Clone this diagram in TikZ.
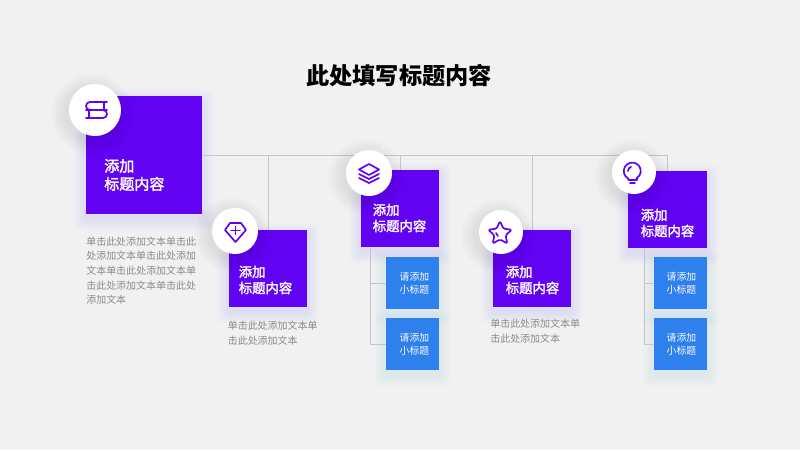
\documentclass[tikz,border=0pt]{standalone}
\usepackage{fontspec}
\setmainfont{Noto Sans CJK SC}
\newfontfamily\cardfont[FakeBold=2]{Noto Sans CJK SC}
\usepackage{xcolor}
\usetikzlibrary{shapes.geometric, positioning}

\definecolor{pagegray}{HTML}{F1F1F2}
\definecolor{cardviolet}{HTML}{6202F2}
\definecolor{subblue}{HTML}{2E80EC}
\definecolor{linkgray}{HTML}{C6C6C8}
\definecolor{notegray}{HTML}{8A8A8C}

\tikzset{
    card/.style={fill=cardviolet, inner sep=0pt, minimum width=1.95cm, minimum height=1.93cm},
    subcard/.style={fill=subblue, inner sep=0pt, minimum width=1.325cm, minimum height=1.3cm},
    subtext/.style={text=white, inner sep=0pt, align=center, font=\fontsize{7}{9}\selectfont},
    cardtext/.style={text=white, anchor=west, align=left, inner sep=0pt, font=\cardfont\fontsize{9.5}{11.5}\selectfont},
    badge/.style={circle, fill=white, inner sep=0pt, minimum size=1.12cm},
    note/.style={text=notegray, anchor=north west, align=left, inner sep=0pt, font=\fontsize{7.1}{10.4}\selectfont},
    link/.style={draw=linkgray, line width=0.6pt},
    icon/.style={draw=cardviolet, line width=1.2pt, line join=round, line cap=round}
}

% soft shadow, built from stacked layers
\newcommand{\softbox}[5]{
    \foreach \g in {1,...,10}
        \fill[#5, opacity=0.007, rounded corners=3pt] ({#1-\g*1.2},{#2-\g*1.2+5}) rectangle ({#3+\g*1.2},{#4+\g*1.2+5});
}
\newcommand{\softdisc}[3]{
    \foreach \g in {1,...,10}
        \fill[black, opacity=0.008] ({#1-3},{#2+4}) circle ({#3+\g*1.5});
}

\begin{document}
\begin{tikzpicture}[x=0.025cm, y=-0.025cm]
    \useasboundingbox (0,0) rectangle (800,450);
    \fill[pagegray] (0,0) rectangle (800,450);

    \softbox{86}{96}{202}{214}{cardviolet}
    \softbox{229}{230}{307}{307}{cardviolet}
    \softbox{361}{170}{439}{247}{cardviolet}
    \softbox{493}{230}{571}{307}{cardviolet}
    \softbox{628}{171}{707}{248}{cardviolet}
    \softbox{386}{257}{439}{309}{subblue}
    \softbox{386}{318}{439}{370}{subblue}
    \softbox{654}{257}{707}{309}{subblue}
    \softbox{654}{318}{707}{370}{subblue}

    \node[inner sep=0pt, font=\fontsize{16.5}{20}\selectfont\bfseries] (heading) at (399,76) {此处填写标题内容};

    \node[card, minimum width=2.9cm, minimum height=2.95cm] (bigcard) at (144,155) {};
    \node[card] (gemcard) at (268,268.5) {};
    \node[card] (layercard) at (400,208.5) {};
    \node[card] (starcard) at (532,268.5) {};
    \node[card, minimum width=1.975cm] (bulbcard) at (667.5,209.5) {};

    \node[subcard] (layersub1) at (412.5,283) {};
    \node[subcard] (layersub2) at (412.5,344) {};
    \node[subcard] (bulbsub1) at (680.5,283) {};
    \node[subcard] (bulbsub2) at (680.5,344) {};

    \node[subtext] (layerlabel1) at (414.5,283) {请添加\\小标题};
    \node[subtext] (layerlabel2) at (414.5,344) {请添加\\小标题};
    \node[subtext] (bulblabel1) at (681.5,283) {请添加\\小标题};
    \node[subtext] (bulblabel2) at (681.5,344) {请添加\\小标题};

    \coordinate (layerfork) at (370,247);
    \coordinate (bulbfork) at (644,248);

    \draw[link] (bigcard.east) -| (bulbcard.north);
    \draw[link] (gemcard.north) -- (gemcard.north |- bigcard.east);
    \draw[link] (layercard.north) -- (layercard.north |- bigcard.east);
    \draw[link] (starcard.north) -- (starcard.north |- bigcard.east);
    \draw[link] (layerfork) |- (layersub1.west);
    \draw[link] (layerfork) |- (layersub2.west);
    \draw[link] (bulbfork) |- (bulbsub1.west);
    \draw[link] (bulbfork) |- (bulbsub2.west);

    \node[cardtext, font=\cardfont\fontsize{10.7}{12.8}\selectfont] (bigtext) at (104,175) {添加\\标题内容};
    \node[cardtext] (gemtext) at (238.5,280) {添加\\标题内容};
    \node[cardtext] (layertext) at (372.5,218) {添加\\标题内容};
    \node[cardtext] (startext) at (505.5,280) {添加\\标题内容};
    \node[cardtext] (bulbtext) at (640.5,223) {添加\\标题内容};

    \node[note] (bignote) at (86,236.5) {单击此处添加文本单击此\\处添加文本单击此处添加\\文本单击此处添加文本单\\击此处添加文本单击此处\\添加文本};
    \node[note] (gemnote) at (227.5,321) {单击此处添加文本单\\击此处添加文本};
    \node[note] (starnote) at (490,319) {单击此处添加文本单\\击此处添加文本};

    \softdisc{95}{110}{26}
    \softdisc{235}{231}{23}
    \softdisc{369}{173}{23}
    \softdisc{501}{232}{22}
    \softdisc{634}{172}{22}

    \node[badge, minimum size=1.3cm] (bookbadge) at (95,110) {};
    \node[badge, minimum size=1.15cm] (gembadge) at (235,231) {};
    \node[badge, minimum size=1.15cm] (layerbadge) at (369,173) {};
    \node[badge, minimum size=1.1cm] (starbadge) at (501,232) {};
    \node[badge, minimum size=1.1cm] (bulbbadge) at (634,172) {};

    % icons
    \draw[icon] (107,102) -- (90,102) arc (270:90:4) -- (107,110);
    \draw[icon] (104,102) -- (104,110);
    \draw[icon] (86,110) -- (103,110) arc (-90:90:4) -- (86,118);
    \draw[icon] (89,110) -- (89,118);

    \draw[icon] (230,223) -- (241,223) -- (246,230) -- (235.5,242) -- (225,230) -- cycle;
    \draw[icon] (231,230.5) -- (240,230.5);
    \draw[icon] (235.5,226.5) -- (235.5,234.5);

    \draw[icon] (369,164) -- (379,169.5) -- (369,175) -- (359,169.5) -- cycle;
    \draw[icon] (359,174) -- (369,179) -- (379,174);
    \draw[icon] (359,178) -- (369,183) -- (379,178);

    \node[icon, star, star points=5, star point ratio=2.1, rounded corners=1pt, minimum size=0.62cm, inner sep=0pt] (staricon) at (500,233.5) {};
    \draw[icon] (496,233) -- (498,236);

    \draw[icon] (628,178.4) arc (120:420:8.5);
    \draw[icon] (628,178.4) -- (628.5,180) -- (637,180) -- (637.2,178.4);
    \draw[icon] (630,183) -- (635,183);
    \draw[icon] (628,171) arc (180:250:4.5);
\end{tikzpicture}
\end{document}
